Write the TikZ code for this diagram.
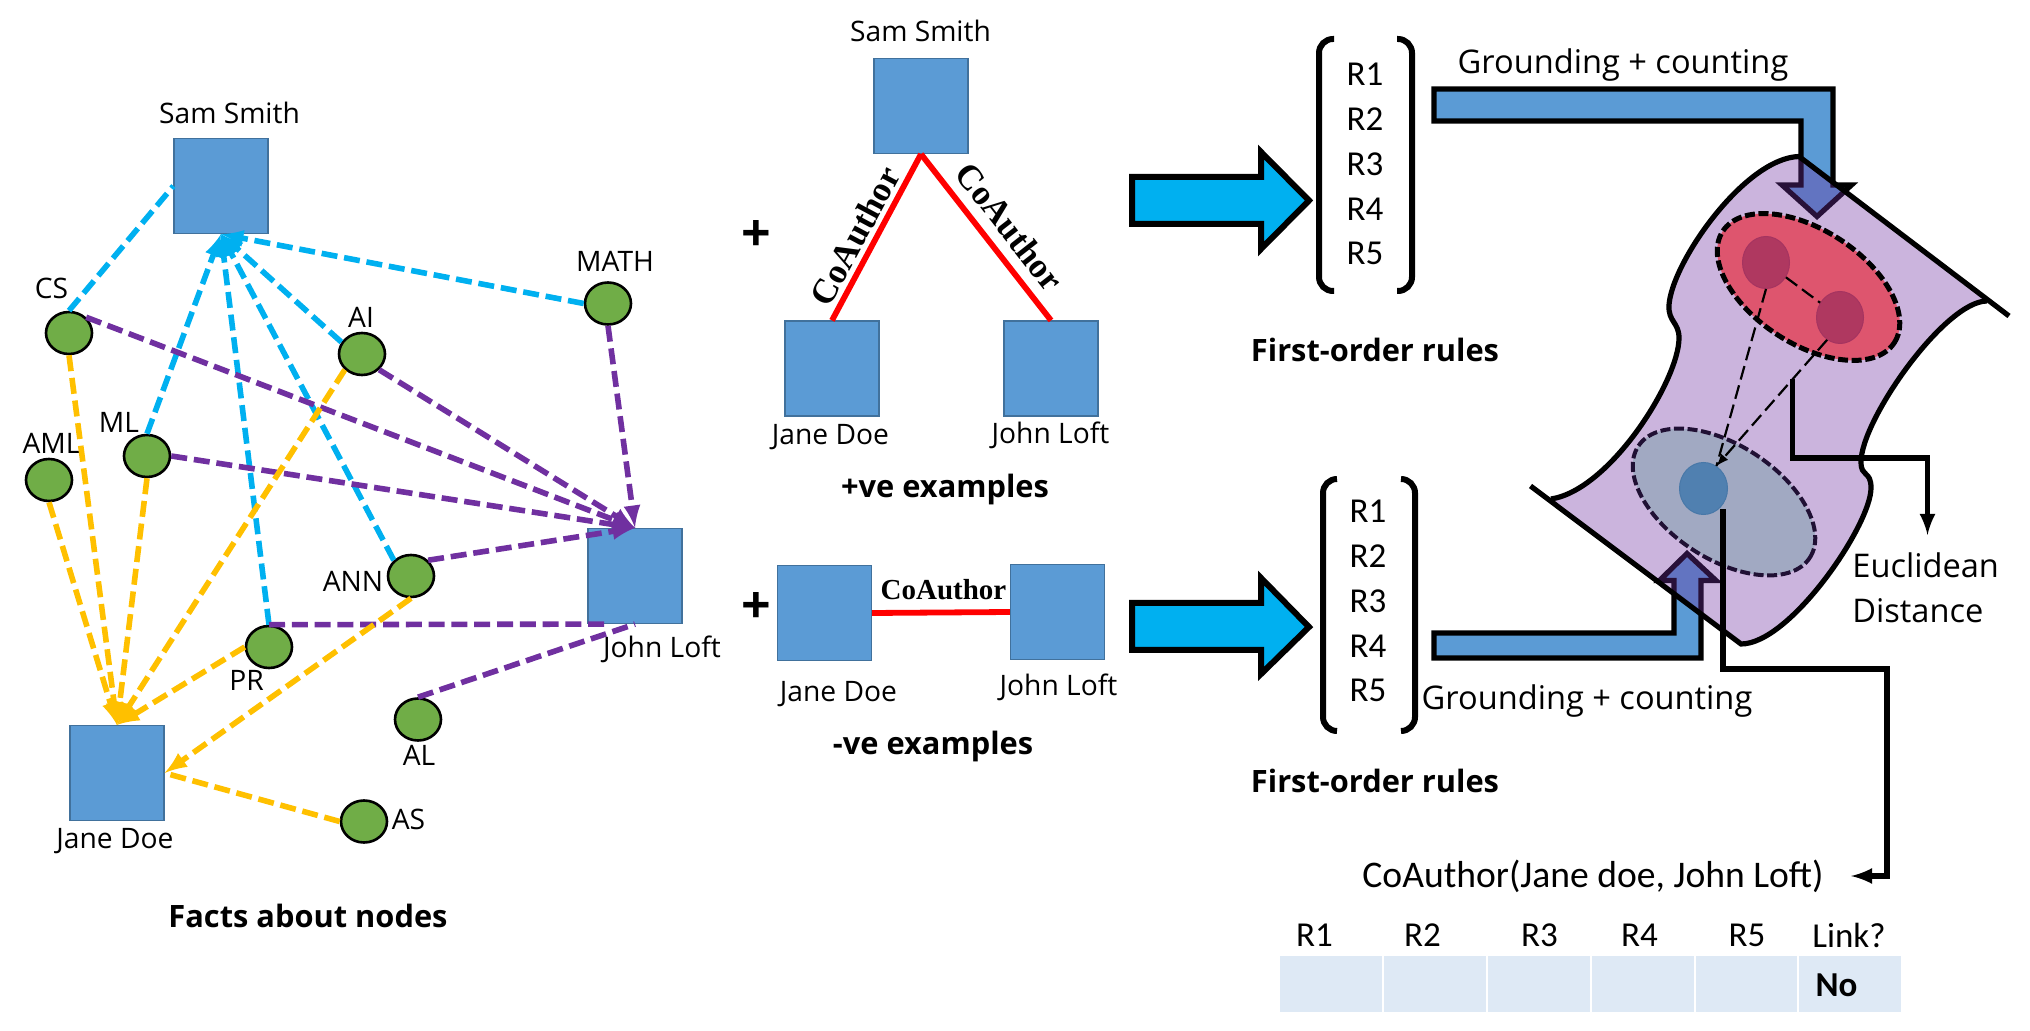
\documentclass[tikz,border=0pt]{standalone}
\usepackage{fontspec}
\setmainfont{Open Sans}
\newfontfamily\calibrifont{Carlito}
\newfontfamily\timesfont{Liberation Serif}
\usetikzlibrary{shapes.geometric,positioning}
\definecolor{boxblue}{HTML}{5B9BD5}
\definecolor{boxedge}{HTML}{41719C}
\definecolor{dotgreen}{HTML}{70AD47}
\definecolor{skyline}{HTML}{00B0F0}
\definecolor{purpleline}{HTML}{7030A0}
\definecolor{orangeline}{HTML}{FFC000}
\definecolor{cellblue}{HTML}{DEE9F5}
\tikzstyle{every node}=[inner sep=0pt,font=\fontsize{14.1}{16}\selectfont]
\tikzstyle{sqbox}=[rectangle,draw=boxedge,fill=boxblue,line width=0.6pt,minimum width=47pt,minimum height=47.5pt]
\tikzstyle{fact}=[ellipse,draw=black,fill=dotgreen,line width=1.3pt,minimum width=23pt,minimum height=21pt]
\tikzstyle{biglabel}=[font=\fontsize{16.3}{22.5}\selectfont]
\tikzstyle{caption}=[font=\bfseries\fontsize{15.4}{18}\selectfont]
\tikzstyle{rulelabel}=[font=\calibrifont\fontsize{17.5}{20}\selectfont]
\tikzstyle{relation}=[font=\timesfont\bfseries\fontsize{17.5}{20}\selectfont]
\tikzstyle{bluelink}=[draw=skyline,line width=2.8pt,dash pattern=on 8pt off 3.4pt,>=latex]
\tikzstyle{purplelink}=[draw=purpleline,line width=2.8pt,dash pattern=on 8pt off 3.4pt,>=latex]
\tikzstyle{orangelink}=[draw=orangeline,line width=2.8pt,dash pattern=on 8pt off 3.4pt,>=latex]
\tikzstyle{redlink}=[draw=red,line width=2.9pt]
\tikzstyle{bigarrow}=[draw=black,fill=skyline,line width=3pt,miter limit=10]
\tikzstyle{bentarrow}=[draw=black,fill=boxblue,line width=2.6pt,miter limit=10]
\tikzstyle{bracket}=[draw=black,line width=3pt,rounded corners=7pt]
\tikzstyle{zone}=[ellipse,rotate=-33,minimum width=102.3pt,minimum height=57pt,dash pattern=on 5pt off 1.8pt]
\tikzstyle{dist}=[draw=black,line width=1.1pt,dash pattern=on 7pt off 3pt]
\tikzstyle{elbow}=[draw=black,line width=2.6pt,->,>=latex]
\tikzstyle{cell}=[rectangle,fill=cellblue,minimum width=50.8pt,minimum height=28pt]

\begin{document}
\begin{tikzpicture}[x=0.5pt,y=-0.5pt]
\useasboundingbox (0,0) rectangle (2030,1031);

% facts graph
\node[sqbox] (samA) at (221,186) {};
\node[sqbox] (johnA) at (635,576) {};
\node[sqbox] (janeA) at (117,773) {};
\node[fact] (cs) at (69,333) {};
\node[fact] (aml) at (49,480) {};
\node[fact] (ml) at (147,456) {};
\node[fact] (ai) at (362,354) {};
\node[fact] (math) at (608,303.5) {};
\node[fact] (ann) at (411,576) {};
\node[fact] (pr) at (269,647) {};
\node[fact] (al) at (418,719.5) {};
\node[fact] (as) at (364,821.5) {};

% labels
\node (samAtxt) at (229.5,113) {Sam Smith};
\node (johnAtxt) at (662,649.5) {John Loft};
\node (janeAtxt) at (115,841) {Jane Doe};
\node (cstxt) at (51.5,288) {CS};
\node (amltxt) at (51.5,443) {AML};
\node (mltxt) at (119,422.5) {ML};
\node (aitxt) at (361,317) {AI};
\node (mathtxt) at (615,261) {MATH};
\node (anntxt) at (353,581.5) {ANN};
\node (prtxt) at (246.5,680.5) {PR};
\node (altxt) at (419,755.5) {AL};
\node (astxt) at (408.5,819.5) {AS};
\node[caption] (factscap) at (308,916) {Facts about nodes};

% Sam Smith links
\draw[bluelink] (cs.north) -- (samA.west);
\draw[bluelink,->] (ml.north) -- (samA.south);
\draw[bluelink,->] (pr.north) -- (samA.south);
\draw[bluelink,->] (ann.north west) -- (samA.south);
\draw[bluelink,->] (ai.150) -- (samA.south);
\draw[bluelink,->] (math.west) -- (samA.south);

% John Loft links
\draw[purplelink,->] (cs.north east) -- (johnA.north);
\draw[purplelink,->] (ai.south east) -- (johnA.north);
\draw[purplelink,->] (ml.east) -- (johnA.north);
\draw[purplelink,->] (ann.north east) -- (johnA.north);
\draw[purplelink,->] (math.south) -- (johnA.north);
\draw[purplelink] (pr.north) -- (johnA.240);
\draw[purplelink] (al.north) -- (johnA.south);

% Jane Doe links
\draw[orangelink,->] (cs.south) -- (janeA.north);
\draw[orangelink,->] (aml.south) -- (janeA.north);
\draw[orangelink,->] (ml.south) -- (janeA.north);
\draw[orangelink,->] (ai.south west) -- (janeA.north);
\draw[orangelink,->] (pr.west) -- (janeA.north);
\draw[orangelink,->] (ann.south) -- (janeA.east);
\draw[orangelink] (as.west) -- (janeA.east);

% positive examples
\node[sqbox] (samB) at (921,106) {};
\node[sqbox] (janeB) at (832,368.5) {};
\node[sqbox] (johnB) at (1051,368.5) {};
\node (samBtxt) at (920.5,31) {Sam Smith};
\node (janeBtxt) at (830.5,437.5) {Jane Doe};
\node (johnBtxt) at (1050.5,435.5) {John Loft};
\node[caption] (poscap) at (945,490) {+ve examples};
\node[font=\bfseries\fontsize{26}{28}\selectfont] (plusA) at (756,236.5) {+};
\draw[redlink] (samB.south) -- node[relation,pos=0.55,sloped,above=2pt] {CoAuthor} (janeB.north);
\draw[redlink] (samB.south) -- node[relation,pos=0.53,sloped,above=5pt] {CoAuthor} (johnB.north);

% negative examples
\node[sqbox] (janeC) at (824.5,613) {};
\node[sqbox] (johnC) at (1057.5,612) {};
\node (janeCtxt) at (838.5,694) {Jane Doe};
\node (johnCtxt) at (1058.5,687) {John Loft};
\node[caption] (negcap) at (933,746.5) {-ve examples};
\node[font=\bfseries\fontsize{26}{28}\selectfont] (plusB) at (756,607.5) {+};
\draw[redlink] (janeC.east) -- (johnC.west);
\node[relation,font=\timesfont\bfseries\fontsize{14.5}{16}\selectfont] (relC) at (943.5,590) {CoAuthor};

% big arrows
\draw[bigarrow] (1132,177) -- (1261,177) -- (1261,152) -- (1309,200.5) -- (1261,249) -- (1261,224) -- (1132,224) -- cycle;
\draw[bigarrow] (1132,603) -- (1261,603) -- (1261,578) -- (1309,627) -- (1261,674) -- (1261,650) -- (1132,650) -- cycle;

% rules
\draw[bracket] (1334,39) -- (1319,39) -- (1319,291) -- (1334,291);
\draw[bracket] (1397,39) -- (1412,39) -- (1412,291) -- (1397,291);
\foreach \i/\y in {1/74.5,2/119.5,3/164,4/209,5/253.5}
  \node[rulelabel] (topR\i) at (1365,\y) {R\i};
\draw[bracket] (1337,479) -- (1323,479) -- (1323,731) -- (1337,731);
\draw[bracket] (1401,479) -- (1415,479) -- (1415,731) -- (1401,731);
\foreach \i/\y in {1/511.5,2/556,3/601,4/646,5/690.5}
  \node[rulelabel] (lowR\i) at (1368,\y) {R\i};
\node[caption] (rulescapA) at (1375,349.5) {First-order rules};
\node[caption] (rulescapB) at (1375,780.5) {First-order rules};
\node[biglabel] (groundA) at (1623,65.5) {Grounding + counting};
\node[biglabel] (groundB) at (1587,701.5) {Grounding + counting};

% grounding arrows
\draw[bentarrow] (1434,89) -- (1833,89) -- (1833,185) -- (1851.5,185) -- (1817,216.5) -- (1782,185) -- (1801,185) -- (1801,121) -- (1434,121) -- cycle;
\draw[bentarrow] (1434,633) -- (1674,633) -- (1674,580.5) -- (1659.5,580.5) -- (1687,553.5) -- (1716,580.5) -- (1701,580.5) -- (1701,658) -- (1434,658) -- cycle;

% surface
\coordinate (cornerA) at (1799,156.5);
\coordinate (cornerB) at (1987,301);
\coordinate (cornerC) at (1741,644);
\coordinate (cornerD) at (1551,499);
\coordinate (endB) at (2009,316);
\coordinate (endD) at (1530.5,486);
\path[fill=purpleline,fill opacity=0.36] (cornerA) .. controls (1745,158) and (1672,262) .. (1669,305) .. controls (1668,322) and (1679,322) .. (1679,338) .. controls (1679,380) and (1610,490) .. (cornerD) -- (cornerC) .. controls (1790,644) and (1871,525) .. (1871,488) .. controls (1871,470) and (1861,478) .. (1861,462) .. controls (1861,420) and (1945,301) .. (cornerB) -- cycle;
\draw[line width=2.6pt] (endB) -- (cornerA) .. controls (1745,158) and (1672,262) .. (1669,305) .. controls (1668,322) and (1679,322) .. (1679,338) .. controls (1679,380) and (1610,490) .. (cornerD);
\draw[line width=2.6pt] (endD) -- (cornerC) .. controls (1790,644) and (1871,525) .. (1871,488) .. controls (1871,470) and (1861,478) .. (1861,462) .. controls (1861,420) and (1945,301) .. (cornerB);

% clusters
\node[zone,draw=black,fill={rgb,255:red,222;green,85;blue,110},line width=2.5pt] (redzone) at (1808.5,287) {};
\node[zone,draw={rgb,255:red,32;green,16;blue,52},fill={rgb,255:red,161;green,169;blue,194},line width=2pt] (bluezone) at (1724,502) {};
\node[ellipse,draw={rgb,255:red,165;green,52;blue,96},fill={rgb,255:red,175;green,56;blue,96},line width=0.5pt,minimum width=23.5pt,minimum height=26pt] (reddotA) at (1766,262.5) {};
\node[ellipse,draw={rgb,255:red,165;green,52;blue,96},fill={rgb,255:red,175;green,56;blue,96},line width=0.5pt,minimum width=23.5pt,minimum height=26pt] (reddotB) at (1840,317.5) {};
\node[ellipse,draw={rgb,255:red,72;green,120;blue,168},fill={rgb,255:red,80;green,128;blue,176},line width=0.5pt,minimum width=24pt,minimum height=26pt] (bluedot) at (1703.5,488.5) {};
\draw[dist] (reddotA) -- (reddotB);
\draw[dist] (reddotA.south) -- (bluedot.60);
\draw[dist,->,>=latex] (reddotB.240) -- (bluedot.60);

% distance note
\coordinate (distfrom) at (1792.5,379.5);
\coordinate (distto) at (1927.5,535);
\draw[elbow] (distfrom) |- (1927.5,458) -- (distto);
\node[biglabel,anchor=west,align=left] (disttxt) at (1852,588) {Euclidean\\Distance};

% table
\coordinate (linkfrom) at (1723,509.5);
\coordinate (linkto) at (1851,876);
\draw[elbow] (linkfrom) |- (1887,669) |- (linkto);
\node[rulelabel,font=\calibrifont\fontsize{18.8}{20}\selectfont] (tabletitle) at (1593,876) {CoAuthor(Jane doe, John Loft)};
\foreach \n/\x in {R1/1314.5,R2/1422.5,R3/1539.5,R4/1639.5,R5/1747,Link?/1849}
  \node[rulelabel] at (\x,935) {\n};
\foreach \i/\x in {1/1331,2/1435,3/1539,4/1643,5/1746.5,6/1850}
  \node[cell] (cell\i) at (\x,984) {};
\node[rulelabel,font=\calibrifont\bfseries\fontsize{17.5}{20}\selectfont] (noval) at (1836.5,985.5) {No};

\end{tikzpicture}
\end{document}
